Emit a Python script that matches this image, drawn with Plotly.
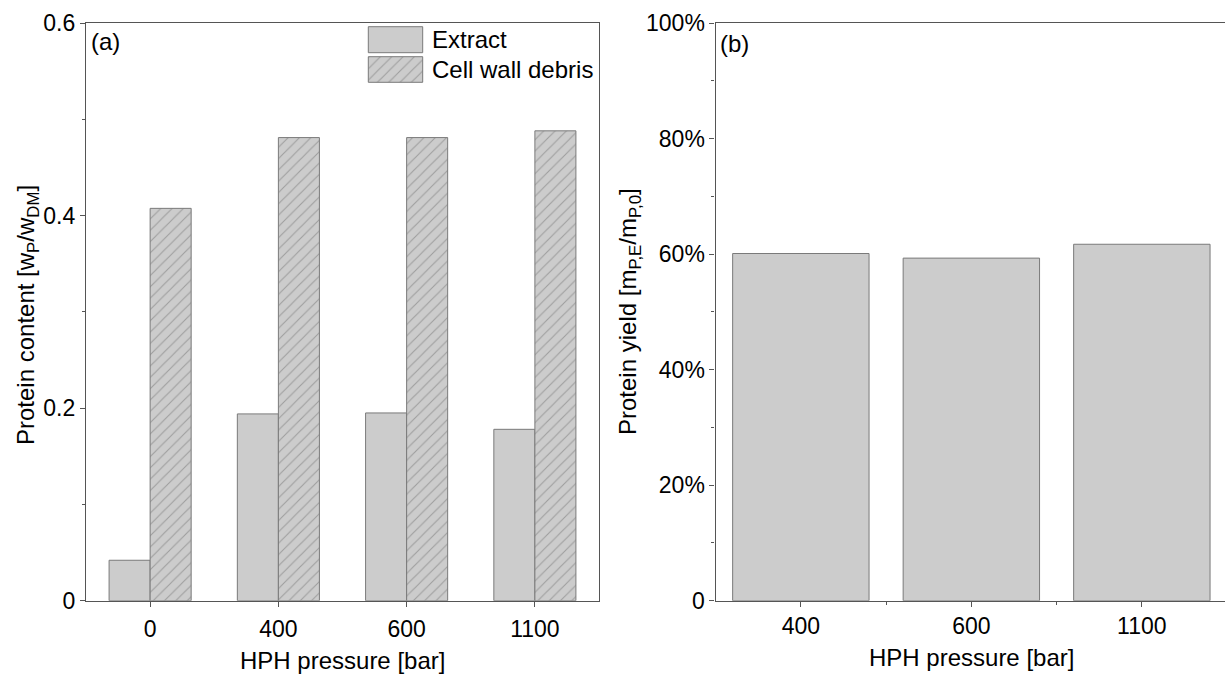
import plotly.graph_objects as go

# ---- data ----
pressures_a = ["0", "400", "600", "1100"]
extract_content = [0.042, 0.194, 0.195, 0.178]
debris_content = [0.4075, 0.481, 0.481, 0.488]

pressures_b = ["400", "600", "1100"]
protein_yield = [0.601, 0.593, 0.617]

content_ticks = [0, 0.2, 0.4, 0.6]
content_ticktext = ["0", "0.2", "0.4", "0.6"]
yield_ticks = [0, 0.2, 0.4, 0.6, 0.8, 1.0]
yield_ticktext = ["0", "20%", "40%", "60%", "80%", "100%"]

# ---- styling ----
W, H = 1225, 676
FONT = "Liberation Sans, Arial, sans-serif"
FS = 24
TFS = 23
AXC = "#555555"
FILL = "#cccccc"
EDGE = "#7a7a7a"


def px(x):
    return x / W


def py(y):
    return 1 - y / H


# plot-area boxes in pixels
A_L, A_R, TOP, BOT = 86, 599, 23, 600.7
B_L, B_STEP = 715.6, 170.5

xa = list(range(len(pressures_a)))
xb = list(range(len(pressures_b)))
hatch = dict(shape="/", fgcolor="#707070", bgcolor=FILL, size=8, solidity=0.14)

fig = go.Figure()

# panel (a): grouped bars
fig.add_trace(go.Bar(
    x=xa, y=extract_content, width=0.32, offset=-0.32, name="Extract",
    marker=dict(color=FILL, line=dict(color=EDGE, width=1)),
    xaxis="x", yaxis="y", showlegend=False))
fig.add_trace(go.Bar(
    x=xa, y=debris_content, width=0.32, offset=0.0, name="Cell wall debris",
    marker=dict(color=FILL, pattern=hatch, line=dict(color=EDGE, width=1)),
    xaxis="x", yaxis="y", showlegend=False))

# panel (b): single bars
fig.add_trace(go.Bar(
    x=xb, y=protein_yield, width=0.8, offset=-0.4, name="Protein yield",
    marker=dict(color=FILL, line=dict(color=EDGE, width=1)),
    xaxis="x2", yaxis="y2", showlegend=False))

# legend swatches for panel (a), drawn in its data coordinates
a_unit_x = (A_R - A_L) / len(pressures_a)
a_unit_y = (BOT - TOP) / content_ticks[-1]


def ax_x(p):
    return (p - A_L) / a_unit_x - 0.5


def ax_y(p):
    return (BOT - p) / a_unit_y


def swatch(x0, x1, y0, y1, pattern=None):
    xs = [ax_x(x0), ax_x(x1), ax_x(x1), ax_x(x0), ax_x(x0)]
    ys = [ax_y(y0), ax_y(y0), ax_y(y1), ax_y(y1), ax_y(y0)]
    kw = dict(fillpattern=pattern) if pattern else {}
    fig.add_trace(go.Scatter(
        x=xs, y=ys, mode="lines", fill="toself", fillcolor=FILL,
        line=dict(color=EDGE, width=1), hoverinfo="skip", showlegend=False,
        xaxis="x", yaxis="y", **kw))


swatch(368.3, 422.7, 26.7, 52.7)
swatch(368.3, 422.7, 56.7, 82.3, pattern=hatch)

tickfont = dict(family=FONT, size=TFS, color="black")
common = dict(showgrid=False, zeroline=False, showline=True, linecolor=AXC,
              linewidth=1.3, ticks="outside", tickcolor=AXC, tickwidth=1.3,
              ticklen=5, tickfont=tickfont, automargin=False)

fig.update_layout(
    width=W, height=H, margin=dict(l=0, r=0, t=0, b=0, autoexpand=False),
    paper_bgcolor="white", plot_bgcolor="white",
    barmode="group", showlegend=False,
    font=dict(family=FONT, size=FS, color="black"),
    xaxis=dict(domain=[px(A_L), px(A_R)], range=[-0.5, len(pressures_a) - 0.5],
               tickmode="array", tickvals=xa, ticktext=pressures_a,
               ticklabelstandoff=3,
               mirror=True, anchor="y", **common),
    yaxis=dict(domain=[py(BOT), py(TOP)], range=[0, content_ticks[-1]],
               tickmode="array", tickvals=content_ticks, ticktext=content_ticktext,
               mirror=True, anchor="x",
               minor=dict(tickmode="array",
                          tickvals=[v + 0.1 for v in content_ticks[:-1]],
                          ticks="outside", ticklen=3, tickcolor=AXC, tickwidth=1.3),
               **common),
    xaxis2=dict(domain=[px(B_L), 1.0],
                range=[-0.5, -0.5 + (W - B_L) / B_STEP],
                tickmode="array", tickvals=xb, ticktext=pressures_b,
                mirror=True, anchor="y2",
                minor=dict(tickmode="array", tickvals=[v + 0.5 for v in xb[:-1]],
                           ticks="outside", ticklen=3, tickcolor=AXC, tickwidth=1.3),
                **common),
    yaxis2=dict(domain=[py(BOT), py(TOP)], range=[0, 1.0],
                tickmode="array", tickvals=yield_ticks, ticktext=yield_ticktext,
                mirror=False, anchor="x2",
                minor=dict(tickmode="array",
                           tickvals=[v + 0.1 for v in yield_ticks[:-1]],
                           ticks="outside", ticklen=3, tickcolor=AXC, tickwidth=1.3),
                **common),
)

ann = []


def text(x, y, s, xanchor="center", angle=0):
    ann.append(dict(x=px(x), y=py(y), xref="paper", yref="paper", text=s,
                    showarrow=False, xanchor=xanchor, yanchor="middle",
                    textangle=angle, font=dict(family=FONT, size=FS, color="black")))


text(89, 41, "(a)", xanchor="left")
text(718, 43, "(b)", xanchor="left")
text(430, 40, "Extract", xanchor="left")
text(430, 69.5, "Cell wall debris", xanchor="left")
text(342.5, 660, "HPH pressure [bar]")
text(971, 657, "HPH pressure [bar]")
text(27, 315, "Protein content [w<sub>P</sub>/w<sub>DM</sub>]", angle=-90)
text(629, 312, "Protein yield [m<sub>P,E</sub>/m<sub>P,0</sub>]", angle=-90)

fig.update_layout(annotations=ann)

fig.write_html("out.html")
